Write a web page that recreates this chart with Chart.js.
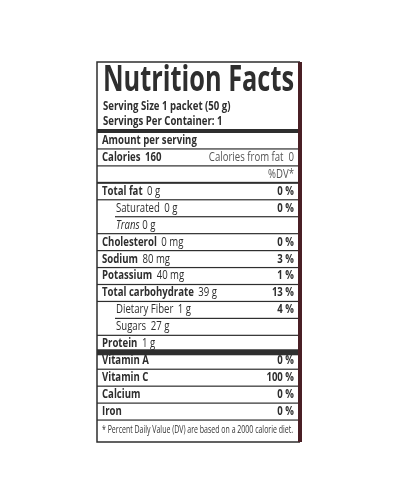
<!DOCTYPE html>
<html>
<head>
<meta charset="utf-8">
<script src="https://cdn.jsdelivr.net/npm/chart.js@4/dist/chart.umd.min.js"></script>
<style>
  html, body { margin: 0; padding: 0; background: #fff; }
  #wrap { width: 400px; height: 500px; }
</style>
</head>
<body>
<div id="wrap"><canvas id="myChart"></canvas></div>
<script>
// Label content
var title = "Nutrition Facts";
var servingLines = ["Serving Size 1 packet (50 g)", "Servings Per Container: 1"];
var rowLabels = ["Amount per serving", "Calories", "", "Total fat", "Saturated", "Trans", "Cholesterol",
  "Sodium", "Potassium", "Total carbohydrate", "Dietary Fiber", "Sugars", "Protein",
  "Vitamin A", "Vitamin C", "Calcium", "Iron", "* Percent Daily Value (DV) are based on a 2000 calorie diet."];
var rowAmounts = ["", "160", "", "0 g", "0 g", "0 g", "0 mg", "80 mg", "40 mg", "39 g", "1 g", "27 g", "1 g", "", "", "", "", ""];
var rowRight = ["", "Calories from fat  0", "%DV*", "0 %", "0 %", "", "0 %", "3 %", "1 %", "13 %", "4 %", "", "", "0 %", "100 %", "0 %", "0 %", ""];
var rowBold = [1, 1, 0, 1, 0, 0, 1, 1, 1, 1, 0, 0, 1, 1, 1, 1, 1, 0];
var rowIndent = [0, 0, 0, 0, 1, 1, 0, 0, 0, 0, 1, 1, 0, 0, 0, 0, 0, 0];
var thickAfter = {2: 2, 12: 6}; // row index -> line width below

var FONT = '"Open Sans", "DejaVu Sans", sans-serif';
var SQ = 0.8; // horizontal squeeze, the label font is condensed

// draw text squeezed horizontally, returns drawn width
function txt(c, s, x, y, align, sq) {
  sq = sq || SQ;
  var w = c.measureText(s).width * sq;
  var x0 = align === 'right' ? x - w : x;
  c.save();
  c.textAlign = 'left';
  c.translate(x0, y);
  c.scale(sq, 1);
  c.fillText(s, 0, 0);
  c.restore();
  return w;
}

var labelPlugin = {
  id: 'label',
  afterDraw: function (chart) {
    var c = chart.ctx, a = chart.chartArea, y = chart.scales.y;
    var L = a.left, R = a.right;
    c.save();
    c.fillStyle = '#2e2e2e';
    c.strokeStyle = '#2e2e2e';
    c.lineWidth = 1.5;
    c.beginPath();
    c.moveTo(R + 2, 62); c.lineTo(L, 62); c.lineTo(L, 442); c.lineTo(R + 2, 442);
    c.stroke();
    c.strokeStyle = '#4a1f25';
    c.lineWidth = 4;
    c.beginPath(); c.moveTo(R + 2, 62); c.lineTo(R + 2, 442); c.stroke();
    c.textBaseline = 'middle';
    // title fitted to the box width
    c.font = 'bold 36px ' + FONT;
    var tw = c.measureText(title).width;
    txt(c, title, L + 6, 81, 'left', (R - L - 10) / tw);
    c.font = 'bold 12px ' + FONT;
    txt(c, servingLines[0], L + 6, 107);
    txt(c, servingLines[1], L + 6, 122);
    c.fillRect(L, a.top - 3, R - L, 4);
    var step = y.getPixelForValue(1) - y.getPixelForValue(0);
    rowLabels.forEach(function (lab, i) {
      var py = y.getPixelForValue(i);
      var x = L + 5 + (rowIndent[i] ? 14 : 0);
      var last = i === rowLabels.length - 1;
      if (last) {
        c.font = '11px ' + FONT;
        c.fillStyle = '#333';
        var fw = c.measureText(lab).width;
        txt(c, lab, x, py + 1, 'left', (R - L - 10) / fw);
        return;
      }
      if (lab === 'Trans') {
        c.font = 'italic 12px ' + FONT;
        x += txt(c, lab + ' ', x, py);
        c.font = '12px ' + FONT;
        txt(c, rowAmounts[i], x, py);
      } else {
        c.font = (rowBold[i] ? 'bold ' : '') + '12px ' + FONT;
        var w = txt(c, lab + ' ', x, py);
        if (rowAmounts[i]) {
          c.font = (i === 1 ? 'bold ' : '') + '12px ' + FONT;
          txt(c, rowAmounts[i], x + w + 2, py);
        }
      }
      if (rowRight[i]) {
        c.font = (i < 3 ? '' : 'bold ') + (i < 3 ? '12px ' : '12px ') + FONT;
        c.fillStyle = i < 3 ? '#555' : '#2e2e2e';
        txt(c, rowRight[i], R - 4, py, 'right');
        c.fillStyle = '#2e2e2e';
      }
      var ly = py + step / 2;
      var lw = thickAfter[i] || 1.2;
      var sx = (rowIndent[i + 1] && rowIndent[i]) ? L + 18 : L;
      c.fillRect(sx, ly - lw / 2, R - sx, lw);
    });
    c.restore();
  }
};

var ctx = document.getElementById('myChart');
var myChart = new Chart(ctx, {
  type: 'bar',
  data: {
    labels: rowLabels,
    datasets: [{ data: rowLabels.map(function () { return 0; }), backgroundColor: 'rgba(0,0,0,0)' }]
  },
  options: {
    indexAxis: 'y',
    responsive: true,
    maintainAspectRatio: false,
    animation: false,
    layout: { padding: { left: 97, right: 102, top: 132, bottom: 63 } },
    plugins: { legend: { display: false }, tooltip: { enabled: false } },
    scales: {
      x: { display: false, min: 0, max: 100 },
      y: { display: false }
    }
  },
  plugins: [labelPlugin]
});
</script>
</body>
</html>
